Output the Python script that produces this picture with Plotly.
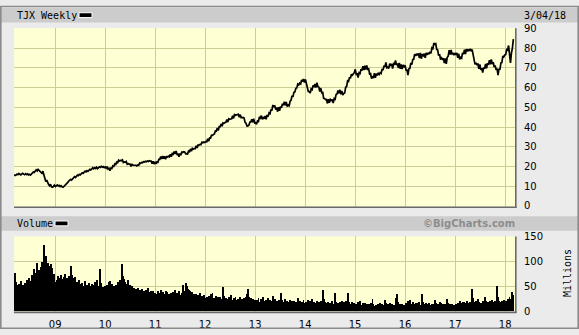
import pandas as pd
import plotly.graph_objects as go

W, H = 579, 335

# ---------------- data (weekly closes, split-adjusted USD) ----------------
price_2008 = [15.9, 15.4, 15.6, 16.1, 15.8, 16.4,
              16.0, 15.7, 16.2, 16.5,
              16.1, 15.8, 16.3, 15.9, 16.2,
              15.7, 16.0, 15.6, 16.1,
              16.6, 17.2, 17.0, 17.8,
              18.3, 17.7, 18.5, 18.0, 17.6,
              17.2, 16.5, 17.6, 15.8,
              14.2, 12.4, 13.1, 11.6, 10.8,
              10.2, 11.0, 9.6, 9.4,
              9.9, 10.5, 9.8, 10.3]
price_2009 = [10.6, 10.1, 10.4, 9.8, 10.2, 9.7, 9.5, 9.9,
              10.3, 10.8, 11.4, 11.9, 12.6, 12.9, 13.5, 13.1, 13.8,
              14.2, 14.8, 14.4, 15.1, 15.6, 15.3, 16.0, 15.7, 16.3,
              16.8, 16.5, 17.2, 17.6, 17.3, 17.9, 17.5, 18.1,
              18.5, 18.2, 18.9, 19.3, 18.8, 19.4, 19.0, 19.6, 18.9,
              19.3, 19.8, 19.5, 20.1, 19.6, 19.9, 19.4, 19.8, 19.2]
price_2010 = [19.9, 18.6, 19.0, 17.9, 19.2, 19.0, 20.3, 20.1,
              21.3, 21.0, 22.2, 21.9, 23.2, 22.8, 23.1, 22.9, 23.3,
              22.0, 22.3, 22.1, 22.5, 21.1, 21.4, 21.2, 21.2, 20.0,
              21.0, 20.7, 20.7, 20.4, 20.6, 20.3, 20.8, 20.6,
              21.8, 21.5, 22.0, 21.9, 22.4, 22.2, 22.6, 22.4, 22.8,
              22.5, 22.9, 22.7, 22.7, 21.4, 22.6, 21.2, 22.4, 21.3]
price_2011 = [22.3, 22.1, 23.6, 23.6, 25.0, 23.8, 25.3, 24.0,
              25.2, 23.7, 25.0, 24.8, 25.3, 24.9, 26.2, 25.0, 26.5,
              26.2, 27.6, 26.4, 27.8, 26.1, 26.3, 24.9, 26.2, 26.0,
              27.3, 27.1, 27.5, 27.4, 26.4, 26.5, 26.3, 27.8,
              27.5, 28.9, 27.7, 29.2, 28.8, 29.1, 29.1, 30.5, 29.4,
              30.9, 30.8, 31.2, 31.1, 32.3, 32.0, 32.4, 32.2, 32.7]
price_2012 = [32.5, 34.0, 32.8, 34.5, 34.4, 35.9, 35.8, 36.2,
              36.5, 38.0, 37.9, 39.5, 38.3, 40.2, 40.2, 41.6, 40.4,
              42.1, 41.9, 42.3, 42.4, 43.8, 42.5, 44.2, 43.9, 44.1,
              44.2, 45.7, 44.4, 46.3, 46.0, 46.2, 46.2, 46.5,
              45.0, 46.3, 44.7, 45.0, 44.9, 44.6, 42.4, 42.0, 40.5,
              40.6, 40.9, 42.5, 42.6, 44.0, 42.4, 44.3, 42.1, 42.2]
price_2013 = [41.4, 43.1, 42.9, 45.2, 44.6, 45.8, 43.9, 45.1,
              44.2, 45.6, 44.0, 46.1, 45.3, 47.2, 46.8, 48.9, 48.4,
              51.2, 50.1, 51.0, 48.9, 49.9, 47.8, 50.1, 48.3, 50.5,
              49.8, 51.9, 51.1, 52.8, 51.0, 52.7, 50.4, 51.2,
              50.8, 53.1, 53.6, 55.9, 55.4, 57.6, 57.8, 59.7, 59.9,
              61.8, 61.4, 62.3, 61.9, 63.9, 63.1, 64.4, 62.6, 64.2]
price_2014 = [62.0, 61.2, 58.1, 58.0, 57.3, 59.4, 59.0, 61.1,
              60.6, 61.9, 60.1, 62.5, 60.5, 60.3, 58.0, 59.8, 57.5,
              57.9, 54.6, 54.5, 53.9, 54.0, 52.0, 54.1, 52.3, 54.0,
              53.5, 54.0, 52.2, 54.5, 54.1, 56.5, 56.8, 58.6,
              57.1, 58.9, 56.6, 58.3, 56.2, 57.1, 57.3, 60.2, 60.6,
              63.5, 63.2, 65.3, 64.8, 66.8, 66.3, 67.0, 67.6, 69.3]
price_2015 = [66.8, 67.0, 65.1, 67.6, 67.2, 69.4, 68.7, 70.9,
              68.9, 71.1, 69.2, 71.3, 69.3, 69.5, 66.9, 67.1, 64.6,
              65.5, 65.2, 67.4, 65.0, 67.1, 66.3, 67.3, 66.7, 67.6,
              67.2, 69.5, 68.9, 71.1, 70.6, 72.8, 70.1, 70.3,
              69.8, 72.2, 71.4, 72.0, 69.7, 72.2, 71.9, 73.8, 71.5,
              72.3, 70.0, 72.6, 69.6, 71.8, 69.5, 71.6, 70.7, 71.3]
price_2016 = [68.9, 68.9, 66.4, 69.6, 69.8, 72.6, 71.7, 74.3,
              74.4, 77.0, 76.2, 77.2, 76.4, 77.4, 75.0, 77.7, 74.7,
              77.0, 76.3, 77.3, 75.1, 77.6, 76.7, 77.5, 77.3, 78.2,
              77.4, 80.2, 79.8, 82.6, 82.0, 82.3, 79.4, 79.2,
              76.3, 77.0, 74.2, 75.1, 74.4, 74.9, 72.5, 74.8, 72.1,
              75.4, 76.0, 79.0, 76.8, 79.2, 77.1, 77.4, 76.5, 77.6]
price_2017 = [76.7, 77.6, 75.1, 77.2, 74.4, 75.4, 75.0, 77.7,
              77.0, 79.3, 77.1, 79.6, 78.4, 79.4, 78.6, 79.7, 78.8,
              79.3, 76.4, 74.6, 71.8, 72.6, 71.7, 72.0, 69.6, 71.8,
              69.0, 69.9, 67.6, 70.3, 69.6, 72.0, 69.8, 72.4,
              71.6, 73.9, 71.8, 74.3, 72.0, 72.9, 70.5, 71.3, 69.0,
              69.7, 66.4, 69.6, 69.1, 72.6, 72.7, 76.0, 75.6, 76.6]
price_2018 = [76.8, 79.3, 79.0, 81.4, 77.4, 72.6, 77.6, 80.1, 84.6]

# weekly volume, millions of shares
volume_2008 = [70, 77, 58, 52, 47, 55,
               50, 60, 48, 53,
               45, 56, 49, 62, 51,
               58, 66, 54, 61,
               72, 68, 85, 64,
               76, 96, 70, 82, 74,
               88, 98, 84, 132,
               92, 110, 86, 97, 90,
               78, 94, 72, 86,
               68, 75, 58, 52]
volume_2009 = [62, 70, 58, 66, 72, 64, 57, 68,
               74, 61, 66, 58, 70, 63, 90, 72, 60,
               66, 55, 68, 52, 58, 49, 62, 54, 47,
               56, 51, 45, 60, 48, 53, 44, 57,
               50, 46, 55, 42, 52, 58, 47, 62, 49,
               44, 51, 84, 56, 43, 48, 38, 50, 18]
volume_2010 = [52, 46, 58, 61, 48, 55, 44, 50,
               47, 53, 42, 58, 45, 62, 51, 56, 94,
               70, 64, 58, 49, 55, 62, 47, 52, 44,
               50, 43, 46, 41, 44, 38, 46, 40,
               42, 36, 45, 39, 34, 40, 35, 43, 37,
               46, 38, 33, 41, 36, 40, 32, 37, 16]
volume_2011 = [34, 40, 31, 37, 43, 35, 39, 30,
               35, 41, 32, 38, 29, 34, 27, 36, 31,
               39, 32, 42, 34, 37, 30, 40, 33, 28,
               36, 52, 33, 41, 56, 50, 45, 42,
               35, 40, 32, 38, 30, 35, 28, 34, 27,
               32, 26, 36, 24, 30, 25, 33, 27, 12]
volume_2012 = [28, 22, 31, 25, 34, 27, 36, 21,
               26, 20, 30, 24, 28, 22, 29, 25, 19,
               48, 30, 22, 27, 24, 18, 28, 21, 33,
               23, 18, 27, 21, 29, 22, 17, 25,
               20, 29, 19, 24, 18, 26, 20, 28, 34,
               45, 29, 21, 26, 20, 25, 18, 23, 10]
volume_2013 = [23, 17, 26, 19, 16, 24, 18, 29,
               21, 15, 23, 18, 26, 17, 22, 14, 20,
               30, 19, 24, 16, 21, 15, 23, 17, 25,
               36, 22, 15, 19, 24, 16, 21, 14,
               18, 23, 15, 20, 17, 21, 14, 19, 16,
               26, 18, 20, 15, 19, 14, 22, 16, 8]
volume_2014 = [19, 14, 22, 16, 20, 13, 24, 15,
               18, 12, 17, 21, 14, 18, 11, 20, 15,
               43, 24, 18, 13, 17, 11, 19, 14, 16,
               13, 20, 15, 12, 37, 19, 14, 16,
               12, 18, 11, 21, 15, 19, 13, 20, 16,
               37, 18, 13, 15, 14, 19, 11, 16, 7]
volume_2015 = [15, 11, 18, 12, 21, 13, 10, 16,
               12, 17, 10, 15, 11, 14, 9, 16, 12,
               24, 14, 11, 10, 13, 9, 15, 11, 16,
               10, 14, 9, 13, 22, 16, 12, 14,
               11, 16, 10, 14, 9, 13, 10, 27, 12,
               34, 18, 12, 14, 10, 15, 9, 13, 6]
volume_2016 = [17, 13, 20, 14, 22, 15, 12, 18,
               14, 11, 17, 13, 16, 12, 18, 13, 11,
               35, 19, 14, 12, 16, 11, 14, 17, 12,
               11, 15, 10, 14, 23, 16, 12, 15,
               13, 18, 12, 16, 11, 15, 11, 14, 10,
               24, 17, 12, 15, 11, 14, 10, 13, 7]
volume_2017 = [15, 12, 17, 14, 21, 16, 13, 18,
               15, 19, 14, 17, 20, 16, 13, 18, 15,
               45, 26, 19, 16, 21, 17, 24, 18, 15,
               17, 14, 20, 16, 28, 21, 18, 16,
               19, 15, 21, 17, 23, 18, 15, 20, 17,
               50, 29, 21, 19, 17, 20, 16, 22, 10]
volume_2018 = [20, 17, 24, 22, 28, 25, 21, 39, 32]

price = (price_2008 + price_2009 + price_2010 + price_2011 + price_2012 + price_2013
         + price_2014 + price_2015 + price_2016 + price_2017 + price_2018)
volume = (volume_2008 + volume_2009 + volume_2010 + volume_2011 + volume_2012 + volume_2013
          + volume_2014 + volume_2015 + volume_2016 + volume_2017 + volume_2018)

last_date = pd.Timestamp("2018-03-02")
price_dates = pd.date_range(end=last_date, periods=len(price), freq="7D")
vol_dates = pd.date_range(end=last_date, periods=len(volume), freq="7D")

price_ticks = [0, 10, 20, 30, 40, 50, 60, 70, 80, 90]
volume_ticks = [0, 50, 100, 150]

# ---------------- styling ----------------
BG = "#ebebeb"
BAR = "#cccccc"
PLOT_BG = "#ffffd4"
GRID = "#cdcd98"
MONO = "DejaVu Sans Mono"
SANS = "DejaVu Sans"


def fx(x):
    return x / W


def fy(y):
    return 1 - y / H


x_range = ["2008-03-06", "2018-03-14"]
x_dom = [fx(14), fx(515)]

fig = go.Figure()
fig.add_trace(go.Scatter(x=price_dates, y=price, mode="lines",
                         line=dict(color="black", width=1.7),
                         xaxis="x", yaxis="y", showlegend=False, hoverinfo="skip"))
fig.add_trace(go.Bar(x=vol_dates, y=volume, marker=dict(color="black", line=dict(width=0)),
                     width=7 * 24 * 3600 * 1000, xaxis="x2", yaxis="y2",
                     showlegend=False, hoverinfo="skip"))

common_x = dict(type="date", range=x_range, domain=x_dom, showgrid=True, gridcolor=GRID,
                gridwidth=1, dtick="M12", tick0="2009-01-01", zeroline=False,
                showline=False, fixedrange=True)
fig.update_layout(
    width=W, height=H, margin=dict(l=0, r=0, t=0, b=0),
    paper_bgcolor=BG, plot_bgcolor=PLOT_BG, bargap=0,
    xaxis=dict(common_x, anchor="y", showticklabels=False, ticks=""),
    xaxis2=dict(common_x, anchor="y2", showticklabels=True, tickformat="%y", ticks="",
                ticklabelstandoff=5,
                tickfont=dict(family=SANS, size=10, color="black")),
    yaxis=dict(domain=[fy(208), fy(23)], range=[-0.35, 90.2], side="right", anchor="x",
               tickvals=price_ticks, showgrid=True, gridcolor=GRID, zeroline=False,
               ticks="outside", ticklen=6, tickcolor="rgba(0,0,0,0)",
               tickfont=dict(family=SANS, size=10, color="black")),
    yaxis2=dict(domain=[fy(317), fy(239)], range=[0, 150], side="right", anchor="x2",
                tickvals=volume_ticks, showgrid=True, gridcolor=GRID, zeroline=False,
                ticks="outside", ticklen=6, tickcolor="rgba(0,0,0,0)",
                tickfont=dict(family=SANS, size=10, color="black")),
)

shapes = []
# header bars
shapes.append(dict(type="rect", xref="paper", yref="paper", x0=fx(1), x1=fx(578),
                   y0=fy(17), y1=fy(2), fillcolor=BAR, line=dict(width=0), layer="below"))
shapes.append(dict(type="rect", xref="paper", yref="paper", x0=fx(1), x1=fx(578),
                   y0=fy(233), y1=fy(218), fillcolor=BAR, line=dict(width=0), layer="below"))
# legend swatches
for (x0, x1, y0, y1) in [(79, 92, 7, 12), (55, 68, 223, 228)]:
    shapes.append(dict(type="rect", xref="paper", yref="paper", x0=fx(x0), x1=fx(x1),
                       y0=fy(y1), y1=fy(y0), fillcolor="black",
                       line=dict(color="white", width=1)))
# plot frames (shadow on bottom/right)
for (top, bot) in [(23, 208), (239, 317)]:
    shapes.append(dict(type="line", xref="paper", yref="paper", x0=fx(14), x1=fx(516.5),
                       y0=fy(bot + 0.8), y1=fy(bot + 0.8), line=dict(color="#6a6a6a", width=1.6)))
    shapes.append(dict(type="line", xref="paper", yref="paper", x0=fx(515.8), x1=fx(515.8),
                       y0=fy(bot + 1.5), y1=fy(top), line=dict(color="#6a6a6a", width=1.6)))
# outer frame
shapes.append(dict(type="rect", xref="paper", yref="paper", x0=fx(0.8), x1=fx(578.2),
                   y0=fy(334.2), y1=fy(0.5), line=dict(color="#8a8a8a", width=1.6)))

annotations = [
    dict(text="TJX Weekly", x=fx(15), y=fy(9.5), xanchor="left", yanchor="middle",
         font=dict(family=MONO, size=10, color="black")),
    dict(text="3/04/18", x=fx(522), y=fy(9.5), xanchor="left", yanchor="middle",
         font=dict(family=MONO, size=10, color="black")),
    dict(text="Volume", x=fx(15), y=fy(225.5), xanchor="left", yanchor="middle",
         font=dict(family=MONO, size=10, color="black")),
    dict(text="<b>©BigCharts.com</b>", x=fx(517), y=fy(225.5), xanchor="right",
         yanchor="middle", font=dict(family=SANS, size=10, color="#8c8c8c")),
    dict(text="Millions", x=fx(567), y=fy(277), xanchor="center", yanchor="middle",
         textangle=-90, font=dict(family=MONO, size=10, color="black")),
]
for a in annotations:
    a.update(xref="paper", yref="paper", showarrow=False)

fig.update_layout(shapes=shapes, annotations=annotations)
fig.write_html("out.html")
